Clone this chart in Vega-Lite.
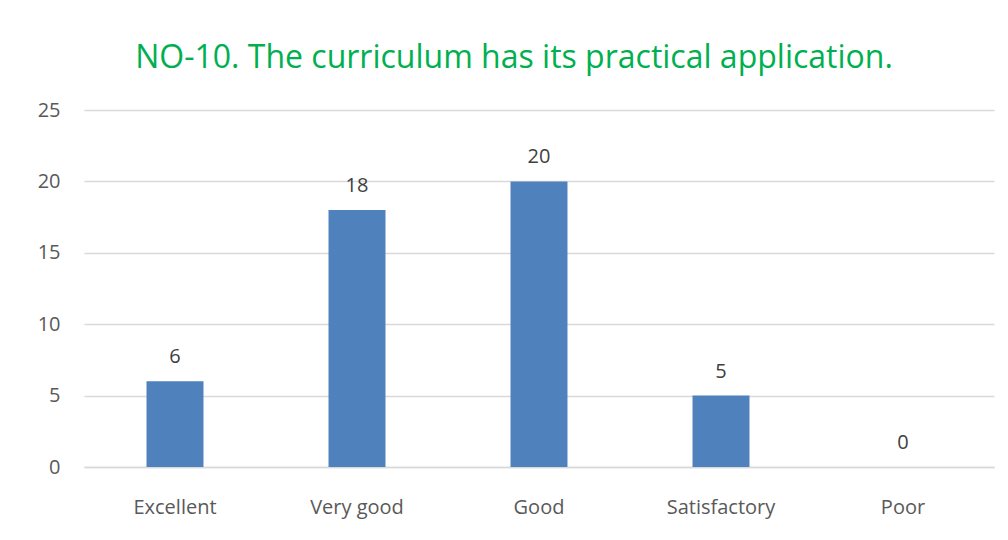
{
  "$schema": "https://vega.github.io/schema/vega-lite/v6.json",
  "autosize": "none",
  "width": 910,
  "height": 357,
  "padding": {"left": 84, "top": 110, "right": 14, "bottom": 73},
  "background": "white",
  "config": {"view": {"stroke": null}, "font": "Open Sans"},
  "title": {
    "text": "NO-10. The curriculum has its practical application.",
    "color": "#00B050",
    "fontSize": 32,
    "fontWeight": "normal",
    "font": "Open Sans",
    "anchor": "middle",
    "dx": -25,
    "offset": 25
  },
  "data": {"values": [
    {"category": "Excellent", "count": 6},
    {"category": "Very good", "count": 18},
    {"category": "Good", "count": 20},
    {"category": "Satisfactory", "count": 5},
    {"category": "Poor", "count": 0}
  ]},
  "encoding": {
    "x": {
      "field": "category", "type": "nominal", "sort": null,
      "scale": {"paddingInner": 0.687, "paddingOuter": 0.3435},
      "axis": {"title": null, "labelAngle": 0, "labelFontSize": 20, "labelColor": "#595959", "labelPadding": 30, "ticks": false, "domainColor": "#D9D9D9", "domainWidth": 1.5}
    },
    "y": {
      "field": "count", "type": "quantitative",
      "scale": {"domain": [0, 25]},
      "axis": {"title": null, "values": [0, 5, 10, 15, 20, 25], "labelFontSize": 20, "labelColor": "#595959", "labelPadding": 24, "ticks": false, "domain": false, "gridColor": "#D9D9D9", "gridWidth": 1.5}
    }
  },
  "layer": [
    {"mark": {"type": "bar", "color": "#4F81BD"}},
    {"mark": {"type": "text", "baseline": "alphabetic", "dy": -18, "fontSize": 20, "color": "#404040"}, "encoding": {"text": {"field": "count"}}}
  ]
}
